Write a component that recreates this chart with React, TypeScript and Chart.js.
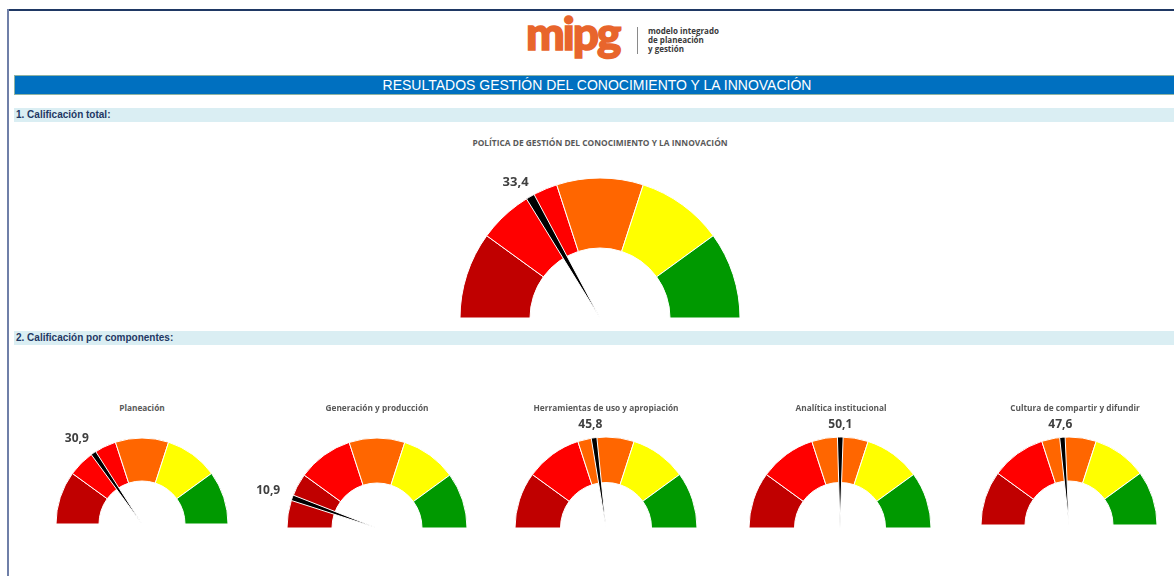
import React, { useEffect, useRef } from 'react';
import { Chart, registerables } from 'chart.js';

Chart.register(...registerables);

// ---------- data ----------
const bandLabels = ['0-20', '20-40', '40-60', '60-80', '80-100'];
const bandValues = [20, 20, 20, 20, 20];
const bandColors = ['#C00000', '#FF0000', '#FF6600', '#FFFF00', '#009900'];
const needleWidth = 2;

const pageTitle = 'RESULTADOS GESTIÓN DEL CONOCIMIENTO Y LA INNOVACIÓN';
const section1 = '1. Calificación total:';
const section2 = '2. Calificación por componentes:';

const mainTitle = 'POLÍTICA DE GESTIÓN DEL CONOCIMIENTO Y LA INNOVACIÓN';
const mainValue = 33.4;

const componentNames = [
  'Planeación',
  'Generación y producción',
  'Herramientas de uso y apropiación',
  'Analítica institucional',
  'Cultura de compartir y difundir',
];
const componentValues = [30.9, 10.9, 45.8, 50.1, 47.6];

// ---------- layout ----------
const mainLayout = { cx: 600, cy: 318, r: 140, titleX: 600, titleY: 143, fontSize: 13, titleSize: 8.4 };
const componentLayout = [
  { cx: 142, cy: 524, r: 86, titleX: 142, titleY: 408, fontSize: 12 },
  { cx: 377, cy: 528, r: 90, titleX: 377, titleY: 408, fontSize: 12 },
  { cx: 606, cy: 528, r: 91, titleX: 606, titleY: 408, fontSize: 12 },
  { cx: 840, cy: 528, r: 91, titleX: 841, titleY: 408, fontSize: 12 },
  { cx: 1069, cy: 525, r: 88, titleX: 1075, titleY: 408, fontSize: 12 },
];
const componentTitleSize = 8.3;

const fmt = (v: number) => v.toFixed(1).replace('.', ',');

type GaugeProps = { value: number; cx: number; cy: number; r: number; fontSize: number };

function Gauge({ value, cx, cy, r, fontSize }: GaugeProps) {
  const bandRef = useRef<HTMLCanvasElement>(null);
  const needleRef = useRef<HTMLCanvasElement>(null);
  const pad = 45;
  const W = 2 * r + 2 * pad;
  const H = r + 2 * pad;

  useEffect(() => {
    const baseOptions: any = {
      responsive: false,
      animation: false,
      rotation: -90,
      circumference: 180,
      radius: r,
      events: [],
      layout: { padding: { left: pad, right: pad, top: pad, bottom: pad } },
      plugins: { legend: { display: false }, tooltip: { enabled: false }, title: { display: false } },
    };
    const band = new Chart(bandRef.current!, {
      type: 'doughnut',
      data: {
        labels: bandLabels,
        datasets: [
          {
            data: bandValues,
            backgroundColor: bandColors,
            borderColor: '#FFFFFF',
            borderWidth: 1,
          },
        ],
      },
      options: { ...baseOptions, cutout: '50%' },
    });

    const labelPlugin = {
      id: 'needleLabel',
      afterDatasetsDraw(chart: any) {
        const arc = chart.getDatasetMeta(0).data[1];
        if (!arc) return;
        const p = arc.getProps(['x', 'y', 'startAngle', 'endAngle', 'outerRadius'], true);
        const mid = (p.startAngle + p.endAngle) / 2;
        const c = Math.cos(mid);
        const s = Math.sin(mid);
        const d = p.outerRadius + 12 + 9 * Math.abs(c);
        const shift = 15 * Math.abs(s * c) * Math.sign(c);
        const ctx = chart.ctx;
        ctx.save();
        ctx.font = `bold ${fontSize}px "Open Sans", sans-serif`;
        ctx.fillStyle = '#404040';
        ctx.textAlign = 'center';
        ctx.textBaseline = 'middle';
        ctx.fillText(fmt(value), p.x + c * d + shift, p.y + s * d);
        ctx.restore();
      },
    };

    const needle = new Chart(needleRef.current!, {
      type: 'pie',
      data: {
        labels: ['', 'valor', ''],
        datasets: [
          {
            data: [value - needleWidth / 2, needleWidth, 100 - value - needleWidth / 2],
            backgroundColor: ['rgba(0,0,0,0)', '#000000', 'rgba(0,0,0,0)'],
            borderColor: ['rgba(0,0,0,0)', '#FFFFFF', 'rgba(0,0,0,0)'],
            borderWidth: [0, 1, 0],
          },
        ],
      },
      options: baseOptions,
      plugins: [labelPlugin],
    });
    return () => {
      band.destroy();
      needle.destroy();
    };
  }, [value, r, fontSize]);

  const style: React.CSSProperties = {
    position: 'absolute',
    left: cx - r - pad,
    top: cy - r - pad,
    width: W,
    height: H,
  };
  return (
    <>
      <canvas ref={bandRef} width={W} height={H} style={style} />
      <canvas ref={needleRef} width={W} height={H} style={style} />
    </>
  );
}

const chartTitleStyle = (x: number, y: number, size: number): React.CSSProperties => ({
  position: 'absolute',
  left: x - 200,
  top: y - 7,
  width: 400,
  height: 14,
  lineHeight: '14px',
  textAlign: 'center',
  fontFamily: '"Open Sans", sans-serif',
  fontWeight: 700,
  fontSize: size,
  color: '#595959',
  whiteSpace: 'nowrap',
});

const sectionStyle = (top: number): React.CSSProperties => ({
  position: 'absolute',
  left: 14,
  top,
  width: 1160,
  height: 14,
  lineHeight: '14px',
  background: '#DAEEF3',
  fontFamily: '"Liberation Sans", Arial, sans-serif',
  fontWeight: 700,
  fontSize: 10,
  color: '#1F3864',
  paddingLeft: 2,
  boxSizing: 'border-box',
});

export default function App() {
  return (
    <div
      style={{
        position: 'absolute',
        left: 0,
        top: 0,
        width: 1174,
        height: 576,
        overflow: 'hidden',
        background: '#FFFFFF',
      }}
    >
      {/* frame lines */}
      <div style={{ position: 'absolute', left: 8, top: 9, width: 1166, height: 2, background: '#1F3864' }} />
      <div style={{ position: 'absolute', left: 7, top: 9, width: 2, height: 567, background: '#6F7FA8' }} />

      {/* logo */}
      <div
        style={{
          position: 'absolute',
          left: 526,
          top: 3,
          fontFamily: 'Lato, sans-serif',
          fontWeight: 900,
          fontSize: 46,
          letterSpacing: -2,
          color: '#E8652C',
          lineHeight: '60px',
          WebkitTextStroke: '1.5px #E8652C',
        }}
      >
        mipg
      </div>
      <div style={{ position: 'absolute', left: 637, top: 27, width: 1, height: 27, background: '#8A8A8A' }} />
      <div
        style={{
          position: 'absolute',
          left: 648,
          top: 26,
          fontFamily: '"Open Sans", sans-serif',
          fontWeight: 700,
          fontSize: 8,
          lineHeight: '9px',
          color: '#3A3A3A',
        }}
      >
        modelo integrado
        <br />
        de planeación
        <br />
        y gestión
      </div>

      {/* title bar */}
      <div
        style={{
          position: 'absolute',
          left: 14,
          top: 75,
          width: 1170,
          height: 20,
          boxSizing: 'border-box',
          background: '#0070C0',
          border: '1px solid #8FB3A3',
        }}
      />
      <div
        style={{
          position: 'absolute',
          left: 14,
          top: 75,
          width: 1166,
          height: 20,
          lineHeight: '20px',
          textAlign: 'center',
          color: '#FFFFFF',
          fontFamily: '"Liberation Sans", Arial, sans-serif',
          fontSize: 14,
        }}
      >
        {pageTitle}
      </div>

      <div style={sectionStyle(108)}>{section1}</div>
      <div style={sectionStyle(331)}>{section2}</div>

      {/* main gauge */}
      <div style={chartTitleStyle(mainLayout.titleX, mainLayout.titleY, mainLayout.titleSize)}>{mainTitle}</div>
      <Gauge value={mainValue} cx={mainLayout.cx} cy={mainLayout.cy} r={mainLayout.r} fontSize={mainLayout.fontSize} />

      {/* component gauges */}
      {componentNames.map((name, i) => {
        const l = componentLayout[i];
        return (
          <React.Fragment key={name}>
            <div style={chartTitleStyle(l.titleX, l.titleY, componentTitleSize)}>{name}</div>
            <Gauge value={componentValues[i]} cx={l.cx} cy={l.cy} r={l.r} fontSize={l.fontSize} />
          </React.Fragment>
        );
      })}
    </div>
  );
}
